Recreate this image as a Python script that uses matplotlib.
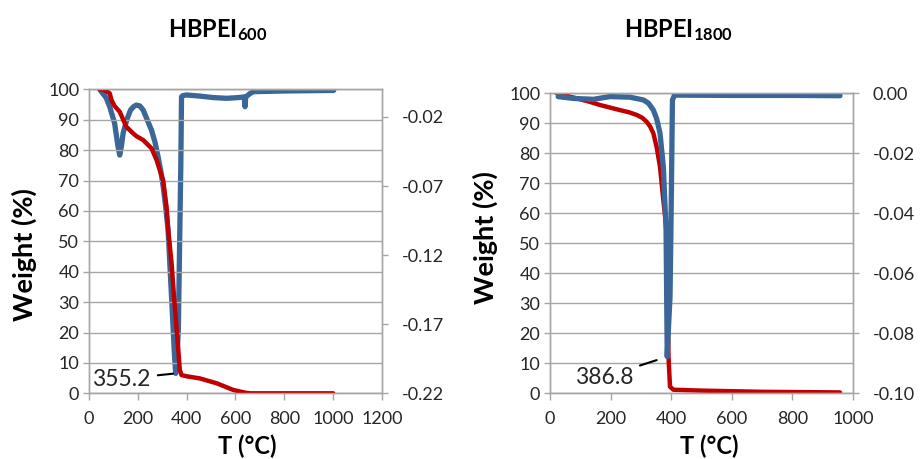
import matplotlib
matplotlib.use("Agg")
import matplotlib.pyplot as plt

plt.rcParams["font.family"] = ["Lato", "DejaVu Sans"]
plt.rcParams["mathtext.fontset"] = "custom"
plt.rcParams["mathtext.bf"] = "Lato:bold"
plt.rcParams["mathtext.rm"] = "Lato"

# ----------------------------------------------------------------------
# HBPEI600: weight (%) and derivative curves
t600_w = [44, 57, 85, 92, 105, 126, 153, 181, 194, 222, 256, 277, 290, 304, 318,
          324, 338, 350, 359, 366, 372, 379, 400, 454, 523, 591, 640, 659, 800, 1000]
w600 = [100, 100, 98.7, 96.5, 94.5, 92.6, 87.7, 85.5, 84.6, 83.3, 80.6, 76.7, 73.4, 70, 61,
        54, 43, 30, 21, 14, 7.7, 6, 5.6, 4.9, 3.3, 1.1, 0.2, 0, 0, 0]

t600_d = [44, 51, 70, 85, 105, 119, 126, 133, 140, 155, 170, 183, 194, 208, 222, 236,
          256, 270, 283, 294, 304, 314, 324, 331, 338, 345, 350, 355.2, 360, 366,
          372, 376, 379, 385, 400, 454, 510, 564, 610, 636, 639, 642, 660, 673, 800, 1002]
d600 = [0.0, -0.0017, -0.006, -0.0126, -0.0246, -0.0415, -0.0476, -0.041, -0.0316,
        -0.022, -0.015, -0.0125, -0.0114, -0.012, -0.015, -0.021, -0.0295, -0.038,
        -0.0488, -0.059, -0.0705, -0.085, -0.1019, -0.1258, -0.15, -0.1743, -0.192,
        -0.2056, -0.195, -0.1743, -0.1019, -0.056, -0.0054, -0.0045, -0.0041, -0.0049,
        -0.006, -0.0065, -0.006, -0.0055, -0.0126, -0.0055, -0.003, -0.0017, -0.0012, -0.0008]

# HBPEI1800: weight (%) and derivative curves
t1800_w = [22, 50, 88, 130, 165, 200, 231, 260, 286, 305, 319, 330, 341, 352, 363,
           374, 385, 387, 389, 391, 396, 407, 500, 700, 957]
w1800 = [100, 99.3, 98.3, 97.2, 96.1, 95.2, 94.4, 93.7, 92.8, 91.8, 90.5, 89, 86.7, 82, 75.5,
         64.4, 54.4, 43, 25, 12.2, 2.2, 1.2, 0.9, 0.5, 0.3]

t1800_d = [27, 77, 143, 198, 264, 308, 325, 341, 352, 363, 374, 383, 385, 386.8, 390,
           396, 399, 402, 404, 411, 600, 800, 957]
d1800 = [-0.0011, -0.0017, -0.002, -0.0011, -0.0013, -0.0022, -0.0033, -0.0056, -0.0085,
         -0.0133, -0.0245, -0.0456, -0.0678, -0.0878, -0.08, -0.0678, -0.0456, -0.02,
         -0.0022, -0.0006, -0.0007, -0.0007, -0.0008]

w_ticks = list(range(0, 101, 10))
d600_ticks = [-0.22, -0.17, -0.12, -0.07, -0.02]
d1800_ticks = [-0.10, -0.08, -0.06, -0.04, -0.02, 0.00]

RED = "#c00000"
BLUE = "#3a6698"
GREY = "#a6a6a6"
TXT = "#262626"

fig = plt.figure(figsize=(9.21, 4.59), dpi=100)
fig.patch.set_facecolor("white")


def style_axes(ax, ax2):
    for a in (ax, ax2):
        for s in a.spines.values():
            s.set_color(GREY)
            s.set_linewidth(1.0)
    ax.grid(axis="y", color=GREY, linewidth=1.0)
    ax.set_axisbelow(True)
    ax.tick_params(axis="y", length=4.5, width=1, color=GREY, pad=2.5,
                   labelsize=13, labelcolor=TXT)
    ax.tick_params(axis="x", length=5, width=1, color=GREY, pad=7.5,
                   labelsize=13, labelcolor=TXT)
    ax2.tick_params(axis="y", length=4, width=1, color=GREY, pad=10,
                    labelsize=13, labelcolor=TXT)


# ----------------------------------------------------------------------
# Left panel
ax = fig.add_axes([0.0966, 0.1431, 0.3182, 0.6623])
ax2 = ax.twinx()
ax2.plot(t600_d, d600, color=BLUE, lw=3.8, solid_capstyle="round", solid_joinstyle="round")
ax.plot(t600_w, w600, color=RED, lw=3.2, solid_capstyle="round", solid_joinstyle="round")
ax.set_zorder(ax2.get_zorder() + 1)
ax.patch.set_visible(False)
ax.set_xlim(0, 1200)
ax.set_ylim(0, 100)
ax.set_xticks(range(0, 1201, 200))
ax.set_yticks(w_ticks)
ax2.set_ylim(-0.22, 0.0)
ax2.set_yticks(d600_ticks)
ax2.set_yticklabels([f"{v:.2f}" for v in d600_ticks])
style_axes(ax, ax2)
ax.set_ylabel("Weight (%)", fontsize=19.5, fontweight="bold", color="black")
ax.yaxis.set_label_coords(-0.179, 0.455)
ax.set_xlabel("T (°C)", fontsize=17, fontweight="bold", color="black", va="center")
ax.xaxis.set_label_coords(0.539, -0.173)
ax2.annotate("355.2", xy=(355.2, -0.2056), xytext=(134, 4.7), textcoords=ax.transData,
             ha="center", va="center", fontsize=16.5, color=TXT,
             arrowprops=dict(arrowstyle="-", color="black", lw=1.5, shrinkA=3, shrinkB=2))
fig.text(0.236, 0.935, r"$\mathbf{HBPEI_{600}}$", ha="center", va="center", fontsize=17)

# ----------------------------------------------------------------------
# Right panel
bx = fig.add_axes([0.5972, 0.1431, 0.3290, 0.6536])
bx2 = bx.twinx()
bx.plot(t1800_w, w1800, color=RED, lw=3.2, solid_capstyle="round", solid_joinstyle="round")
bx2.plot(t1800_d, d1800, color=BLUE, lw=3.8, solid_capstyle="round", solid_joinstyle="round")
bx.set_xlim(0, 1000)
bx.set_ylim(0, 100)
bx.set_xticks(range(0, 1001, 200))
bx.set_yticks(w_ticks)
bx2.set_ylim(-0.10, 0.0)
bx2.set_yticks(d1800_ticks)
bx2.set_yticklabels([f"{v:.2f}" for v in d1800_ticks])
style_axes(bx, bx2)
bx.set_ylabel("Weight (%)", fontsize=19.5, fontweight="bold", color="black")
bx.yaxis.set_label_coords(-0.172, 0.518)
bx.set_xlabel("T (°C)", fontsize=17, fontweight="bold", color="black", va="center")
bx.xaxis.set_label_coords(0.525, -0.176)
bx2.annotate("386.8", xy=(386.8, -0.0878), xytext=(178, 5.4), textcoords=bx.transData,
             ha="center", va="center", fontsize=16.5, color=TXT,
             arrowprops=dict(arrowstyle="-", color="black", lw=1.5, shrinkA=3, shrinkB=8))
fig.text(0.737, 0.935, r"$\mathbf{HBPEI_{1800}}$", ha="center", va="center", fontsize=17)

plt.savefig("out.png", dpi=100)
